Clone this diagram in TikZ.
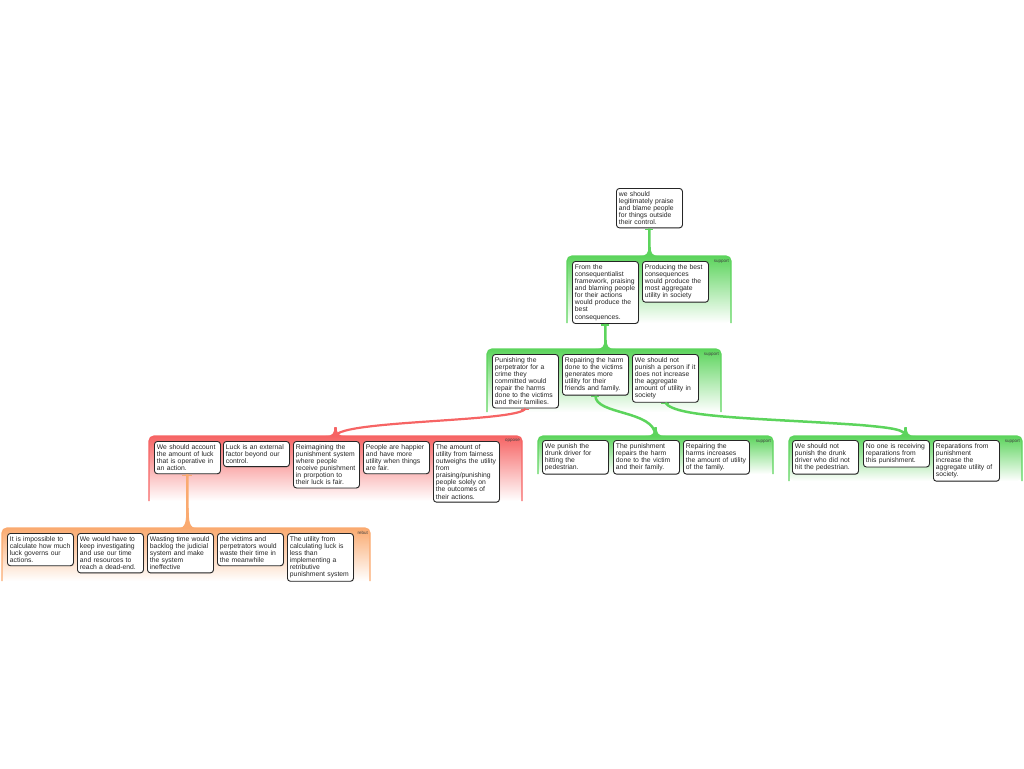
\documentclass[tikz,border=0pt]{standalone}
\usepackage{fontspec}
\setmainfont{Liberation Sans}
\usetikzlibrary{calc,shadows}
\definecolor{G}{RGB}{92,212,92}
\definecolor{R}{RGB}{246,100,100}
\definecolor{O}{RGB}{250,170,112}
\tikzset{
  arg/.style={draw=black!85, line width=0.9pt, rounded corners=3pt, fill=white,
    anchor=north west, align=left, text width=61pt, inner xsep=2.5pt, inner ysep=3pt,
    font=\fontsize{6.8}{7.1}\selectfont, text=black!85,
    drop shadow={opacity=0.25, shadow xshift=0.6pt, shadow yshift=-0.6pt}},
  grplabel/.style={anchor=north east, font=\fontsize{4.5}{4.5}\selectfont, text=black!75, inner sep=0pt},
  conn/.style={line width=2.5pt},
  capbar/.style={line width=1.3pt},
  flare/.pic={\fill (-10,0) .. controls (-2.5,0) and (-1.2,-3) .. (-1.2,-9) -- (1.2,-9) .. controls (1.2,-3) and (2.5,0) .. (10,0) -- cycle;},
  tallflare/.pic={\fill (-9,0) .. controls (-2,0) and (-1.2,-6) .. (-1.2,-20) -- (1.2,-20) .. controls (1.2,-6) and (2,0) .. (9,0) -- cycle;},
}
% #1 colour, #2 x1, #3 y1, #4 x2, #5 y2, #6 label, #7 name
\newcommand\argroup[7]{%
  \shade[top color=#1, middle color=#1!45, bottom color=white, rounded corners=5pt] (#2,#3) rectangle (#4,#5);
  \draw[#1, line width=1.2pt, rounded corners=5pt] (#2,#5) |- (#4,#3) -- (#4,#5);
  \node[grplabel] (#7) at (#4-2,#3+3) {#6};
}
\begin{document}
\begin{tikzpicture}[x=1pt,y=-1pt]
\useasboundingbox (0,0) rectangle (1024,768);

% groups
\argroup{G}{567}{256}{731}{323}{support}{lg1}
\argroup{G}{487}{349}{721}{412}{support}{lg2}
\argroup{R}{149}{436}{522}{501}{oppose}{lopp}
\argroup{O}{2}{528}{370}{581}{rebut}{lreb}
\argroup{G}{538}{436}{773}{474}{support}{lg3}
\argroup{G}{789}{436}{1022}{481}{support}{lg4}

% nodes
\node[arg] (top) at (616,188) {we should\\legitimately praise\\and blame people\\for things outside\\their control.};

\node[arg] (a1) at (572,261) {From the\\consequentialist\\framework, praising\\and blaming people\\for their actions\\would produce the\\best\\consequences.};
\node[arg] (a2) at (642,261) {Producing the best\\consequences\\would produce the\\most aggregate\\utility in society};

\node[arg] (b1) at (492,354) {Punishing the\\perpetrator for a\\crime they\\committed would\\repair the harms\\done to the victims\\and their families.};
\node[arg] (b2) at (562,354) {Repairing the harm\\done to the victims\\generates more\\utility for their\\friends and family.};
\node[arg] (b3) at (632,354) {We should not\\punish a person if it\\does not increase\\the aggregate\\amount of utility in\\society};

\node[arg] (o1) at (154,441) {We should account\\the amount of luck\\that is operative in\\an action.};
\node[arg] (o2) at (223,441) {Luck is an external\\factor beyond our\\control.};
\node[arg] (o3) at (293,441) {Reimagining the\\punishment system\\where people\\receive punishment\\in prorpotion to\\their luck is fair.};
\node[arg] (o4) at (363,441) {People are happier\\and have more\\utility when things\\are fair.};
\node[arg] (o5) at (433,441) {The amount of\\utility from fairness\\outweighs the utility\\from\\praising/punishing\\people solely on\\the outcomes of\\their actions.};

\node[arg] (r1) at (7,533) {It is impossible to\\calculate how much\\luck governs our\\actions.};
\node[arg] (r2) at (77,533) {We would have to\\keep investigating\\and use our time\\and resources to\\reach a dead-end.};
\node[arg] (r3) at (147,533) {Wasting time would\\backlog the judicial\\system and make\\the system\\ineffective};
\node[arg] (r4) at (217,533) {the victims and\\perpetrators would\\waste their time in\\the meanwhile};
\node[arg] (r5) at (287,533) {The utility from\\calculating luck is\\less than\\implementing a\\retributive\\punishment system};

\node[arg] (s1) at (542,440) {We punish the\\drunk driver for\\hitting the\\pedestrian.};
\node[arg] (s2) at (613,440) {The punishment\\repairs the harm\\done to the victim\\and their family.};
\node[arg] (s3) at (683,440) {Repairing the\\harms increases\\the amount of utility\\of the family.};

\node[arg] (t1) at (792,440) {We should not\\punish the drunk\\driver who did not\\hit the pedestrian.};
\node[arg] (t2) at (863,440) {No one is receiving\\reparations from\\this punishment.};
\node[arg] (t3) at (933,440) {Reparations from\\punishment\\increase the\\aggregate utility of\\society.};

% group entry points
\coordinate (g1in) at (649.5,256);
\coordinate (g2in) at (605.5,349);
\coordinate (oin) at (335.5,436);
\coordinate (rin) at (187.5,528);
\coordinate (g3in) at (655.5,436);
\coordinate (g4in) at (905.5,436);

% connectors
\draw[G,conn] (top.south) -- (g1in);
\draw[G,capbar] ($(top.south)+(-4,1)$) -- ($(top.south)+(4,1)$);
\pic[color=G] at (g1in) {flare};

\draw[G,conn] (a1.south) -- (g2in);
\draw[G,capbar] ($(a1.south)+(-4,1)$) -- ($(a1.south)+(4,1)$);
\pic[color=G] at (g2in) {flare};

\draw[R,conn,line width=2.2pt] (b1.south) .. controls (520,422) and (340,420) .. (oin);
\draw[R,capbar] ($(b1.south)+(-4,1)$) -- ($(b1.south)+(4,1)$);
\pic[color=R] at (oin) {flare};

\draw[G,conn] (b2.south) .. controls (595,415) and (655,410) .. (g3in);
\draw[G,capbar] ($(b2.south)+(-4,1)$) -- ($(b2.south)+(4,1)$);
\pic[color=G] at (g3in) {flare};

\draw[G,conn] (b3.south) .. controls (675,418) and (760,418) .. (860,425) .. controls (895,428) and (905,430) .. (g4in);
\draw[G,capbar] ($(b3.south)+(-4,1)$) -- ($(b3.south)+(4,1)$);
\pic[color=G] at (g4in) {flare};

\draw[O,conn] (o1.south) -- (rin);
\draw[O,capbar] ($(o1.south)+(-5,1)$) -- ($(o1.south)+(5,1)$);
\pic[color=O] at (rin) {tallflare};
\end{tikzpicture}
\end{document}
